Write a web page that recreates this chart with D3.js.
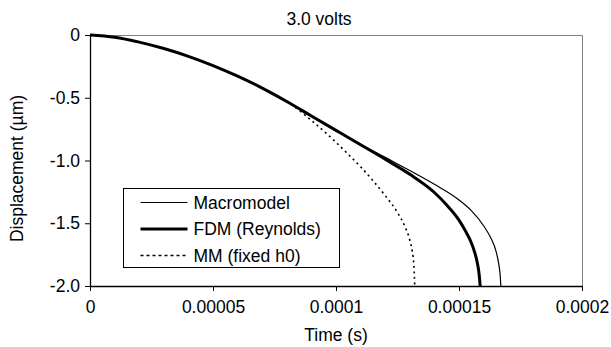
<!DOCTYPE html>
<html>
<head>
<meta charset="utf-8">
<script src="https://cdn.jsdelivr.net/npm/d3@7"></script>
<style>
  body { margin: 0; background: #fff; }
  text { font-family: Arial, "Liberation Sans", sans-serif; fill: #000; }
</style>
</head>
<body>
<div id="chart"></div>
<script>
// time in units of 1e-5 s
const sharedTime = [0, 1, 2, 3, 4, 5, 6, 7, 8];
const sharedDisp = [0, -0.018, -0.057, -0.108, -0.17, -0.244, -0.328, -0.423, -0.53];

const macroTime = [9, 10, 11, 12, 13, 14, 15, 15.5, 16, 16.3, 16.5, 16.62, 16.68, 16.7];
const macroDisp = [-0.645, -0.76, -0.87, -0.975, -1.08, -1.19, -1.315, -1.4, -1.52, -1.62, -1.72, -1.83, -1.93, -2.0];

const fdmTime = [9, 10, 11, 12, 13, 14, 14.5, 15, 15.3, 15.5, 15.65, 15.75, 15.82, 15.86];
const fdmDisp = [-0.645, -0.76, -0.875, -0.99, -1.11, -1.255, -1.355, -1.475, -1.575, -1.655, -1.74, -1.82, -1.91, -2.0];

const mmTime = [8.5, 9, 10, 10.57, 11, 11.5, 12, 12.5, 12.8, 13, 13.1, 13.17, 13.2];
const mmDisp = [-0.6, -0.68, -0.855, -0.965, -1.05, -1.16, -1.28, -1.415, -1.525, -1.635, -1.725, -1.85, -2.0];

const xTicks = [0, 0.00005, 0.0001, 0.00015, 0.0002];
const xTickLabels = ["0", "0.00005", "0.0001", "0.00015", "0.0002"];
const yTicks = [0, -0.5, -1.0, -1.5, -2.0];
const yTickLabels = ["0", "-0.5", "-1.0", "-1.5", "-2.0"];

const seriesNames = ["Macromodel", "FDM (Reynolds)", "MM (fixed h0)"];

const toPoints = (t, d) => t.map((v, i) => ({ x: v * 1e-5, y: d[i] }));

const series = [
  { name: seriesNames[0], width: 1.2, dash: null, pts: toPoints(sharedTime.concat(macroTime), sharedDisp.concat(macroDisp)) },
  { name: seriesNames[1], width: 3, dash: null, pts: toPoints(sharedTime.concat(fdmTime), sharedDisp.concat(fdmDisp)) },
  { name: seriesNames[2], width: 1.6, dash: "2,3.5", pts: toPoints(sharedTime.concat(mmTime), sharedDisp.concat(mmDisp)) },
];

const W = 611, H = 347;
const margin = { top: 35, right: 29, bottom: 61, left: 90 },
  width = W - margin.left - margin.right,
  height = H - margin.top - margin.bottom;

const fontSize = "17.5px";

const svg = d3.select("#chart").append("svg").attr("width", W).attr("height", H);

const g = svg.append("g").attr("transform", "translate(" + margin.left + "," + margin.top + ")");

const x = d3.scaleLinear().domain([0, 0.0002]).range([0, width]);
const y = d3.scaleLinear().domain([-2, 0]).range([height, 0]);

// grey frame on top and right like the original plot area
g.append("path")
  .attr("d", "M0,0.5H" + (width + 0.5) + "V" + height)
  .attr("fill", "none")
  .attr("stroke", "#808080")
  .attr("stroke-width", 1);

// axes
const xAxis = g.append("g")
  .attr("transform", "translate(0," + height + ")")
  .call(d3.axisBottom(x).tickValues(xTicks).tickSize(5).tickPadding(10)
    .tickFormat((d, i) => xTickLabels[i]));

const yAxis = g.append("g")
  .call(d3.axisLeft(y).tickValues(yTicks).tickSize(5).tickPadding(5)
    .tickFormat((d, i) => yTickLabels[i]));

[xAxis, yAxis].forEach((a) => {
  a.select(".domain").attr("stroke", "#000").attr("stroke-width", 1.3);
  a.selectAll(".tick line").attr("stroke", "#000");
  a.selectAll(".tick text").style("font-size", fontSize).attr("font-family", null);
});
xAxis.select(".domain").attr("d", "M0,0.5H" + width);
yAxis.select(".domain").attr("d", "M0.5," + height + "V0");

// curves
const line = d3.line()
  .x((d) => x(d.x))
  .y((d) => y(d.y))
  .curve(d3.curveMonotoneX);

for (const s of series) {
  g.append("path")
    .datum(s.pts)
    .attr("fill", "none")
    .attr("stroke", "#000")
    .attr("stroke-width", s.width)
    .attr("stroke-dasharray", s.dash)
    .attr("d", line);
}

// legend box
const legend = svg.append("g").attr("transform", "translate(123.5,188.5)");
legend.append("rect")
  .attr("width", 216)
  .attr("height", 79)
  .attr("fill", "#fff")
  .attr("stroke", "#000");

series.forEach((s, i) => {
  const ly = 14 + i * 26.5;
  legend.append("line")
    .attr("x1", 17).attr("x2", 64)
    .attr("y1", ly).attr("y2", ly)
    .attr("stroke", "#000")
    .attr("stroke-width", s.width)
    .attr("stroke-dasharray", s.dash ? "3,3" : null);
  legend.append("text")
    .attr("x", 70).attr("y", ly)
    .attr("dy", "0.35em")
    .style("font-size", fontSize)
    .text(s.name);
});

// titles
svg.append("text")
  .attr("x", 319).attr("y", 25)
  .attr("text-anchor", "middle")
  .style("font-size", fontSize)
  .text("3.0 volts");

svg.append("text")
  .attr("x", margin.left + width / 2).attr("y", 341)
  .attr("text-anchor", "middle")
  .style("font-size", fontSize)
  .text("Time (s)");

svg.append("text")
  .attr("transform", "translate(23," + (margin.top + height / 2 + 8) + ") rotate(-90)")
  .attr("text-anchor", "middle")
  .style("font-size", fontSize)
  .text("Displacement (\u00b5m)");
</script>
</body>
</html>
